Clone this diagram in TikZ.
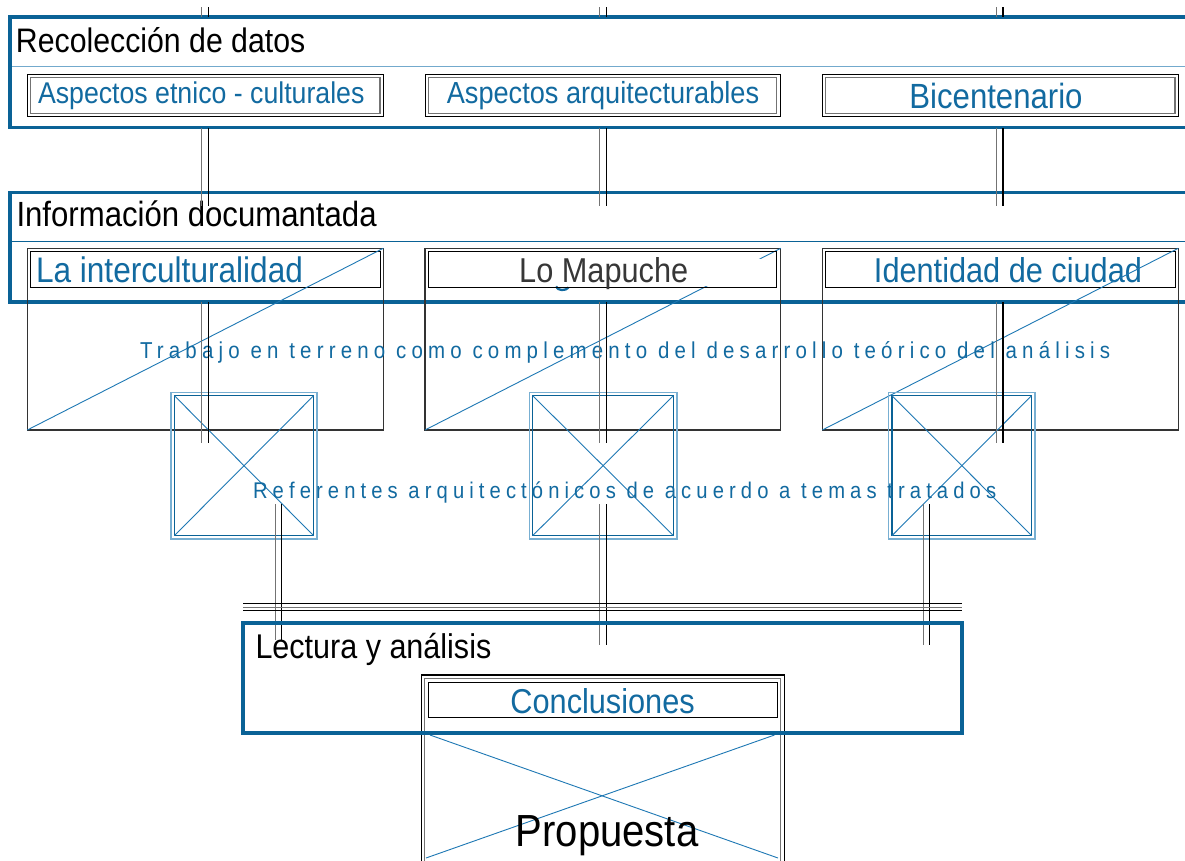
\documentclass[tikz,border=0pt]{standalone}
\usepackage{fontspec}
\setmainfont{Liberation Sans}[FakeStretch=0.89]
\newfontfamily\spacedfont{Liberation Sans}[FakeStretch=0.89,LetterSpace=22.5]
\definecolor{textblue}{RGB}{18,106,160}
\definecolor{frameblue}{RGB}{10,98,150}
\definecolor{lightblue}{RGB}{115,170,205}
\definecolor{diagblue}{RGB}{30,120,180}
\definecolor{xouter}{RGB}{120,175,210}
\definecolor{darkgraytxt}{RGB}{55,55,55}
\newcommand{\fs}[1]{\fontsize{#1}{#1}\selectfont}
\newcommand{\dconn}[3]{%
  \draw[connL] ([xshift=-#3]#1) -- ([xshift=-#3]#2);
  \draw[connR] ([xshift=#3]#1) -- ([xshift=#3]#2);}
\begin{document}
\begin{tikzpicture}[x=1pt,y=-1pt,
  frame/.style={draw=frameblue, line width=3.6pt, anchor=north west, inner sep=0pt, outer sep=0pt},
  plainbox/.style={draw=black, line width=1pt, anchor=north west, inner sep=0pt, outer sep=0pt},
  bigbox/.style={draw=black!80, line width=1.1pt, anchor=north west, inner sep=0pt, outer sep=0pt},
  xbox/.style={draw=xouter, line width=1.5pt, anchor=north west, inner sep=0pt, outer sep=0pt},
  innergray/.style={draw=black!55, line width=1.3pt},
  innerblue/.style={draw=frameblue, line width=1.1pt},
  diag/.style={draw=diagblue, line width=0.9pt},
  connL/.style={draw=black!55, line width=1.2pt},
  connR/.style={draw=black, line width=1.1pt},
  txt/.style={inner sep=0pt, outer sep=0pt, anchor=base west},
  bluetxt/.style={txt, text=textblue},
]
\useasboundingbox (0,0) rectangle (1185,860);
\fill[white] (0,0) rectangle (1185,860);

% ---------- Recoleccion de datos ----------
\node[frame, minimum width=1200pt, minimum height=110.5pt] (recol) at (10,17) {};
\draw[lightblue, line width=1pt] (12,66) -- (1190,66);
\node[txt] (recolt) at (16,52.5) {\fs{34}Recolección de datos};

\node[plainbox, minimum width=356pt, minimum height=42.7pt] (asp1) at (27.3,74) {};
\draw[innergray] ([shift={(3.2,3.2)}]asp1.north west) rectangle ([shift={(-3.2,-3.2)}]asp1.south east);
\node[bluetxt] (asp1t) at (38,103.8) {\fs{30}Aspectos etnico - culturales};

\node[plainbox, minimum width=355pt, minimum height=42.7pt] (asp2) at (425,74) {};
\draw[innergray] ([shift={(3.2,3.2)}]asp2.north west) rectangle ([shift={(-3.2,-3.2)}]asp2.south east);
\node[bluetxt, anchor=base] (asp2t) at (603,103.8) {\fs{30.5}Aspectos arquitecturables};

\node[plainbox, minimum width=356pt, minimum height=42.7pt] (asp3) at (822.3,74) {};
\draw[innergray] ([shift={(3.2,3.2)}]asp3.north west) rectangle ([shift={(-3.2,-3.2)}]asp3.south east);
\node[bluetxt, anchor=base] (asp3t) at (996,108.5) {\fs{35}Bicentenario};

% ---------- Informacion documantada ----------
\node[frame, minimum width=1200pt, minimum height=109.5pt] (info) at (10,192.5) {};
\draw[frameblue, line width=1pt] (12,241) -- (1190,241);
\node[txt] (infot) at (16.5,226) {\fs{35}Información documantada};

% column 1
\node[bigbox, minimum width=356pt, minimum height=181.7pt] (img1) at (27.3,248.3) {};
\node[plainbox, minimum width=349.3pt, minimum height=35.6pt] (tit1) at (30.7,251.7) {};
\node[bluetxt] (tit1t) at (36,282.2) {\fs{35.5}La interculturalidad};
\draw[diag] (img1.south west) -- (img1.north east);

% column 2
\node[bigbox, minimum width=355.7pt, minimum height=181.7pt] (img2) at (425,248.3) {};
\draw[diag] (img2.south west) -- (img2.north east);
\fill[white] (429.5,259) rectangle (776,286);
\draw[textblue, line width=2.3pt] (556,286.5) .. controls (557.5,291) and (566,291) .. (568.5,287.5);
\node[plainbox, minimum width=348.4pt, minimum height=35.6pt] (tit2) at (428.3,251.7) {};
\node[txt, text=darkgraytxt, anchor=base] (tit2t) at (603.7,282.2) {\fs{34.5}Lo Mapuche};

% column 3
\node[bigbox, minimum width=356pt, minimum height=181.7pt] (img3) at (822.3,248.3) {};
\node[plainbox, minimum width=349.3pt, minimum height=35.6pt] (tit3) at (825.7,251.7) {};
\node[bluetxt, anchor=base] (tit3t) at (1008,282.2) {\fs{34.5}Identidad de ciudad};
\draw[diag] (img3.south west) -- (img3.north east);

\node[bluetxt] (trab) at (140,358.3) {\spacedfont\fs{23}Trabajo en terreno como complemento del desarrollo teórico del análisis};

% ---------- X boxes ----------
\foreach \n/\xa/\xb in {x1/171/317, x2/529.3/676.8, x3/888.6/1035}{
  \node[xbox, minimum width=\xb pt-\xa pt, minimum height=146.3pt] (\n) at (\xa,392.7) {};
  \draw[innerblue] ([shift={(3.4,3)}]\n.north west) rectangle ([shift={(-3.4,-3.4)}]\n.south east);
  \draw[diag] ([shift={(3.4,3)}]\n.north west) -- ([shift={(-3.4,-3.4)}]\n.south east);
  \draw[diag] ([shift={(3.4,-3.4)}]\n.south west) -- ([shift={(-3.4,3)}]\n.north east);
}

\node[bluetxt] (refe) at (253,498.3) {\spacedfont\fs{22.7}Referentes arquitectónicos de acuerdo a temas tratados};

% ---------- connectors ----------
\foreach \c/\x in {1/205, 2/603, 3/999.7}{
  \coordinate (top\c a) at (\x,7);
  \coordinate (top\c b) at (\x,17);
  \coordinate (mid\c a) at (\x,128);
  \coordinate (mid\c b) at (\x,205.8);
  \coordinate (low\c a) at (\x,302);
  \coordinate (low\c b) at (\x,443.3);
}
\coordinate (bot1a) at (278.5,504);   \coordinate (bot1b) at (278.5,640);
\coordinate (bot2a) at (602.8,504);   \coordinate (bot2b) at (602.8,645);
\coordinate (bot3a) at (926.5,504);   \coordinate (bot3b) at (926.5,645);
\foreach \c in {1,2,3}{
  \dconn{top\c a}{top\c b}{3.3pt}
  \dconn{mid\c a}{mid\c b}{3.3pt}
  \dconn{low\c a}{low\c b}{3.3pt}
  \dconn{bot\c a}{bot\c b}{3.4pt}
}

% triple horizontal bar
\coordinate (barL) at (243,607);
\coordinate (barR) at (962,607);
\draw[black, line width=1pt] ([yshift=3.5pt]barL) -- ([yshift=3.5pt]barR);
\draw[black!55, line width=1pt] (barL) -- (barR);
\draw[black, line width=1pt] ([yshift=-3.5pt]barL) -- ([yshift=-3.5pt]barR);

% ---------- Propuesta / Conclusiones ----------
\node[plainbox, line width=1.1pt, minimum width=363pt, minimum height=220pt] (prop) at (421.3,675) {};
\draw[innergray] ([shift={(3.5,3.3)}]prop.north west) rectangle ([shift={(-3.5,0)}]prop.south east);
\node[plainbox, line width=1.1pt, minimum width=349.3pt, minimum height=34.6pt] (concl) at (428.3,682.7) {};
\node[bluetxt, anchor=base] (conclt) at (602.6,713.8) {\fs{34.5}Conclusiones};
\coordinate (pxa) at (430,735);
\coordinate (pxb) at (778,858);
\coordinate (pxc) at (774.5,735);
\coordinate (pxd) at (426,858);
\draw[diag] (pxa) -- (pxb);
\draw[diag] (pxc) -- (pxd);
\node[txt, anchor=base] (propt) at (607,846) {\fs{45}Propuesta};

% ---------- Lectura y analisis ----------
\node[frame, minimum width=719pt, minimum height=110pt] (lect) at (243,623) {};
\node[txt] (lectt) at (255.5,658.5) {\fs{34.3}Lectura y análisis};
\end{tikzpicture}
\end{document}
